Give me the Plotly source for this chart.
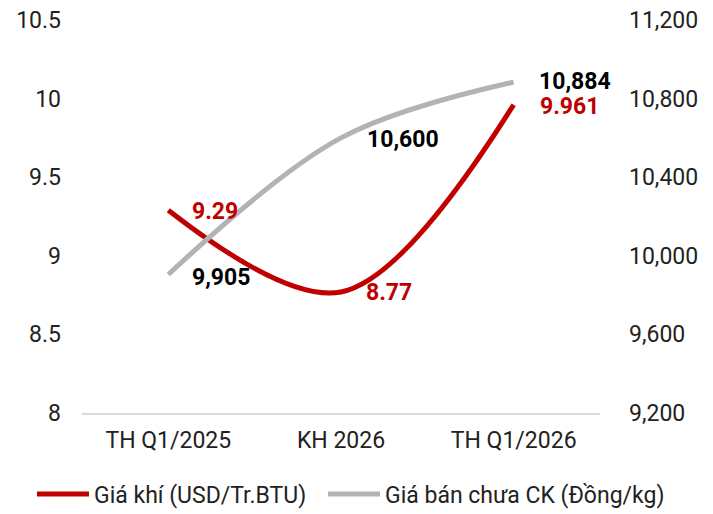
import plotly.graph_objects as go

categories = ["TH Q1/2025", "KH 2026", "TH Q1/2026"]
gas_price = [9.29, 8.77, 9.961]
sell_price = [9905, 10600, 10884]
gas_labels = ["9.29", "8.77", "9.961"]
sell_labels = ["9,905", "10,600", "10,884"]
left_ticks = [8, 8.5, 9, 9.5, 10, 10.5]
right_ticks = [9200, 9600, 10000, 10400, 10800, 11200]

RED = "#C00000"
GRAY = "#B3B3B3"
FONT = "Roboto, Arial, sans-serif"
FS = 23

fig = go.Figure()
fig.add_trace(go.Scatter(
    x=categories, y=gas_price, name="Giá khí (USD/Tr.BTU)",
    mode="lines", line=dict(color=RED, width=5, shape="spline", smoothing=1.0),
    yaxis="y", legend="legend"))
fig.add_trace(go.Scatter(
    x=categories, y=sell_price, name="Giá bán chưa CK (Đồng/kg)",
    mode="lines", line=dict(color=GRAY, width=5, shape="spline", smoothing=1.0),
    yaxis="y2", legend="legend2"))

ann = []
gas_shift = [(22, -1), (23, -1), (24, -2)]
sell_shift = [(22, -3), (24, -2), (23, 1)]
for c, v, t, (dx, dy) in zip(categories, gas_price, gas_labels, gas_shift):
    ann.append(dict(x=c, y=v, xref="x", yref="y", text=f"<b>{t}</b>", showarrow=False,
                    xanchor="left", yanchor="middle", xshift=dx, yshift=dy,
                    font=dict(family=FONT, size=FS, color=RED)))
for c, v, t, (dx, dy) in zip(categories, sell_price, sell_labels, sell_shift):
    ann.append(dict(x=c, y=v, xref="x", yref="y2", text=f"<b>{t}</b>", showarrow=False,
                    xanchor="left", yanchor="middle", xshift=dx, yshift=dy,
                    font=dict(family=FONT, size=FS, color="#000000")))

leg_common = dict(orientation="h", xref="container", yref="container",
                  xanchor="left", yanchor="middle", y=20 / 514,
                  font=dict(family=FONT, size=FS, color="#222222"),
                  itemwidth=52, bgcolor="rgba(0,0,0,0)", borderwidth=0)

fig.update_layout(
    width=713, height=514,
    margin=dict(l=82, r=113, t=20, b=101, autoexpand=False),
    paper_bgcolor="white", plot_bgcolor="white",
    font=dict(family=FONT, size=FS, color="#222222"),
    showlegend=True,
    legend=dict(leg_common, x=32 / 713),
    legend2=dict(leg_common, x=323 / 713),
    xaxis=dict(range=[-0.5, 2.5], showgrid=False, showline=True, linecolor="#D9D9D9",
               linewidth=1.5, ticks="", tickfont=dict(size=FS), ticklabelstandoff=6,
               fixedrange=True),
    yaxis=dict(range=[8, 10.5], tickvals=left_ticks, ticktext=[f"{v:g}" for v in left_ticks],
               showgrid=False, zeroline=False, showline=False, ticks="",
               ticklabelstandoff=20, tickfont=dict(size=FS)),
    yaxis2=dict(range=[9200, 11200], tickvals=right_ticks,
                ticktext=[f"{v:,}" for v in right_ticks], overlaying="y", side="right",
                showgrid=False, zeroline=False, showline=False, ticks="",
                ticklabelstandoff=28, tickfont=dict(size=FS)),
    annotations=ann,
)
fig.write_html("out.html", config={"displayModeBar": False},
               post_script="document.body.style.margin='0';document.body.style.overflow='hidden';")
